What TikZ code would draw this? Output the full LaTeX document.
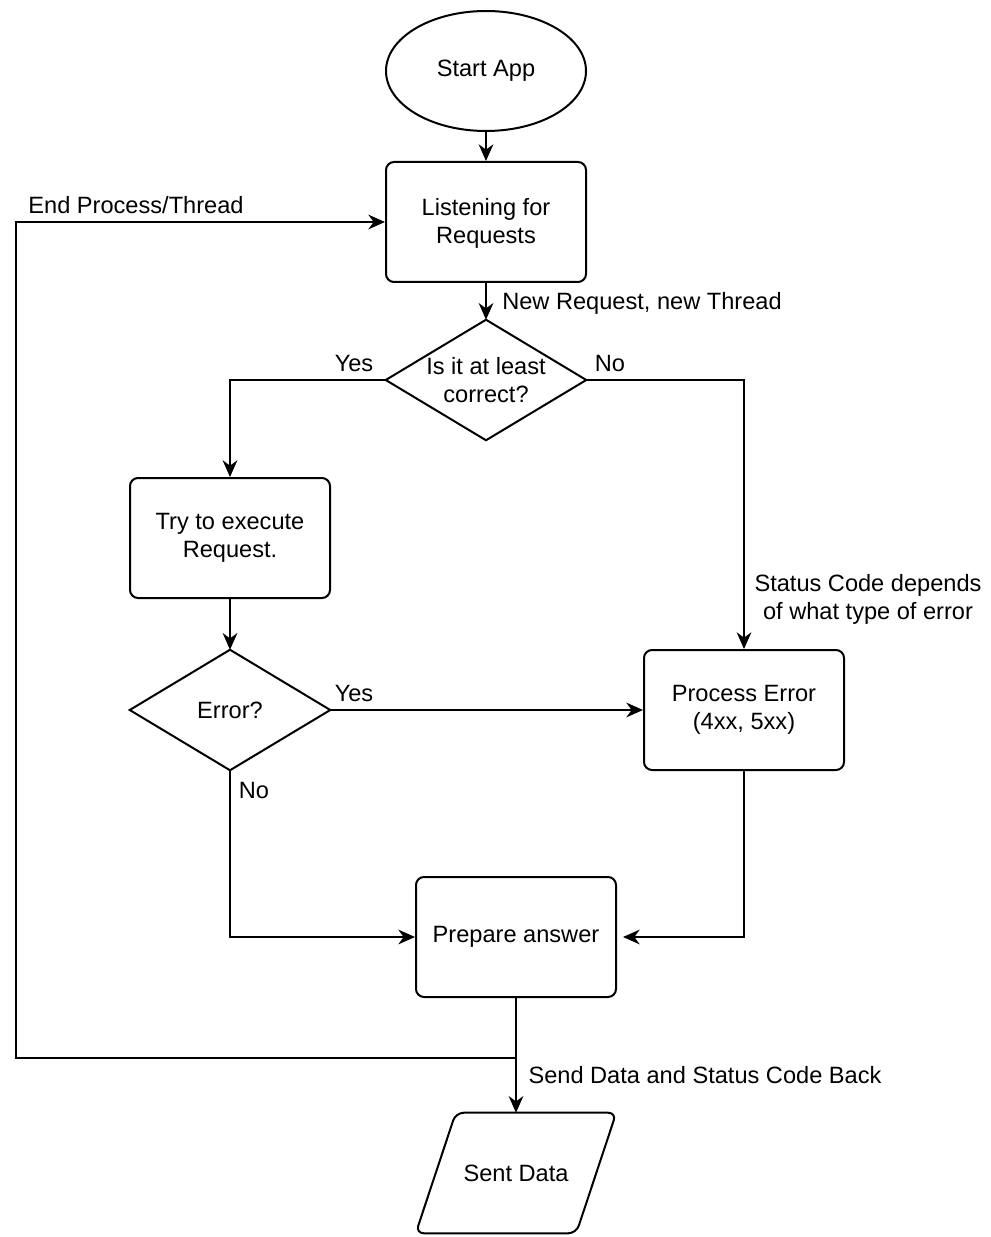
\documentclass[tikz,border=0pt]{standalone}
\usepackage{fontspec}
\setmainfont{Liberation Sans}
\usetikzlibrary{shapes.geometric,arrows.meta}
\begin{document}
\begin{tikzpicture}[x=0.75pt,y=-0.75pt,
  every node/.style={font=\fontsize{17.7pt}{21pt}\selectfont},
  box/.style={draw, line width=1.5pt, rounded corners=6pt, minimum width=150pt, minimum height=90pt, align=center, inner sep=0pt},
  blank/.style={minimum width=150pt, minimum height=90pt, align=center, inner sep=0pt},
  oval/.style={draw, ellipse, line width=1.5pt, minimum width=150pt, minimum height=90pt, inner sep=0pt},
  outline/.style={line width=1.5pt, line join=miter},
  conn/.style={line width=1.5pt, -{Stealth[length=12.5pt,width=11pt,inset=4pt]}},
  lbl/.style={inner sep=0pt, align=center}
]
\useasboundingbox (0,0) rectangle (990,1237);

% nodes
\node[oval] (start) at (486,71) {Start App};
\node[box] (listen) at (486,222) {\strut Listening for\\Requests};
\node[blank] (corr) at (486,380) {Is it at least\\correct?};
\draw[outline] (corr.north) -- (corr.east) -- (corr.south) -- (corr.west) -- cycle;
\node[box] (try) at (230,538) {Try to execute\\Request.};
\node[blank] (err) at (230,710) {Error?};
\draw[outline] (err.north) -- (err.east) -- (err.south) -- (err.west) -- cycle;
\node[box] (proc) at (744,710) {Process Error\\(4xx, 5xx)};
\node[box] (prep) at (516,937) {Prepare answer};
\node[blank] (sent) at (516,1173) {Sent Data};
\draw[outline, rounded corners=6pt] ([xshift=30pt]sent.north west) -- (sent.north east) -- ([xshift=-30pt]sent.south east) -- (sent.south west) -- cycle;

% connectors
\draw[conn] (start) -- (listen);
\draw[conn] (listen.south) -- (corr.north);
\draw[conn] (corr.west) -| (try.north);
\draw[conn] (corr.east) -| (proc.north);
\draw[conn] (try) -- (err);
\draw[conn] (err.east) -- (proc.west);
\draw[conn] (err.south) |- (prep.west);
\draw[conn, shorten >=4.5pt] (proc.south) |- (prep.east);
\draw[conn] (prep.south) -- (sent.north);
\coordinate (loopA) at (16,1058);
\draw[conn] (prep.south) |- (loopA) |- (listen.west);

% labels
\node[lbl, anchor=west] (l1) at (502,303) {New Request, new Thread};
\node[lbl] (l2) at (354,363) {Yes};
\node[lbl] (l3) at (610,363) {No};
\node[lbl] (l4) at (868,599) {Status Code depends\\of what type of error};
\node[lbl] (l5) at (354,693) {Yes};
\node[lbl] (l6) at (254,790) {No};
\node[lbl] (l7) at (705,1075) {Send Data and Status Code Back};
\node[lbl] (l8) at (136,205) {End Process/Thread};
\end{tikzpicture}
\end{document}
